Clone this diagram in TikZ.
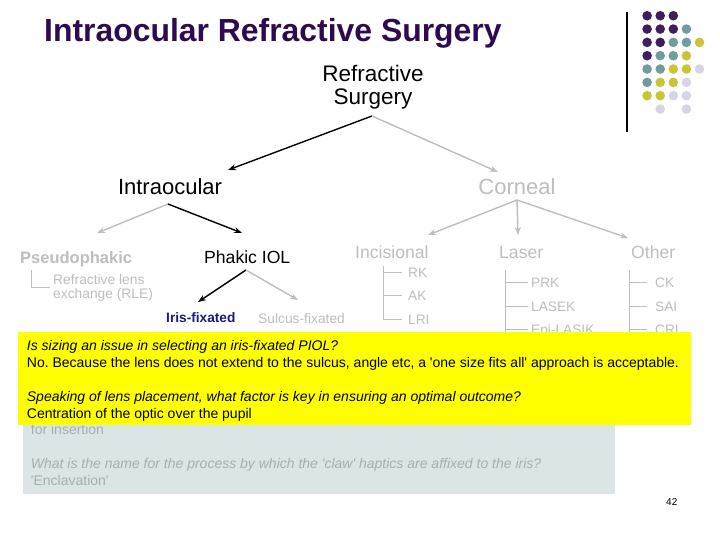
\documentclass[tikz,border=0pt]{standalone}
\usepackage{fontspec}
\setmainfont{Liberation Sans}
\usetikzlibrary{arrows.meta}
\definecolor{titlepurple}{HTML}{2E0B50}
\definecolor{lgray}{HTML}{BEBEBE}
\definecolor{dpurple}{HTML}{3F1E5E}
\definecolor{dteal}{HTML}{6F9C9C}
\definecolor{dyellow}{HTML}{C9C536}
\definecolor{dlav}{HTML}{D5D5E6}
\definecolor{boxgray}{HTML}{DCE5E5}
\definecolor{boxtext}{HTML}{A6AEAE}
\definecolor{irisblue}{HTML}{1C1C7C}
\definecolor{hiyellow}{HTML}{FFFF00}
\newcommand\myfs[2]{\fontsize{#1}{#2}\selectfont}
\frenchspacing
\tikzset{
  lbl/.style={inner sep=0pt, anchor=base west},
  blackarrow/.style={draw=black, line width=1.4pt, -{Stealth[length=8pt,width=6pt]}},
  grayarrow/.style={draw=lgray, line width=1.4pt, -{Stealth[length=8pt,width=6pt]}},
  treeline/.style={draw=lgray, line width=0.8pt},
  leaf/.style={lbl, text=lgray, font=\myfs{13.7}{16}},
  level3/.style={lbl, font=\myfs{17.6}{20}},
  dot/.style={inner sep=0pt, minimum size=9.6pt, circle},
}
\begin{document}
\begin{tikzpicture}[x=1pt,y=-1pt]
\useasboundingbox (0,0) rectangle (720,540);
\fill[white] (0,0) rectangle (720,540);

% title
\node[lbl, text=titlepurple, font=\myfs{31.9}{36}\bfseries] (title) at (44,41.7) {Intraocular Refractive Surgery};

% vertical rule
\coordinate (ruletop) at (627,12);
\coordinate (rulebot) at (627,132);
\draw[line width=1.1pt] (ruletop) -- (rulebot);

% dot grid
\foreach \c/\r/\col [count=\i] in {
  1/1/dpurple,2/1/dpurple,3/1/dpurple,
  1/2/dpurple,2/2/dpurple,3/2/dpurple,4/2/dteal,
  1/3/dpurple,2/3/dpurple,3/3/dteal,4/3/dteal,5/3/dyellow,
  1/4/dpurple,2/4/dteal,3/4/dteal,4/4/dyellow,
  1/5/dteal,2/5/dteal,3/5/dyellow,4/5/dyellow,5/5/dlav,
  1/6/dteal,2/6/dyellow,3/6/dyellow,4/6/dlav,
  1/7/dyellow,2/7/dyellow,3/7/dlav,4/7/dlav,
  2/8/dlav,4/8/dlav}
  \node[dot, fill=\col] (dot\i) at ({634+13.1*\c},{2.4+13.33*\r}) {};

% tree nodes
\node[inner sep=0pt, anchor=north, align=center, font=\myfs{22.5}{23}] (refsurg) at (373,65) {Refractive\\Surgery};
\node[inner sep=0pt, anchor=base, font=\myfs{22}{24}] (intra) at (170,195) {Intraocular};
\node[inner sep=0pt, anchor=base, text=lgray, font=\myfs{22}{24}] (corneal) at (517,195) {Corneal};

\node[lbl, text=lgray, font=\myfs{16.5}{20}\bfseries] (pseudo) at (20,263) {Pseudophakic};
\node[level3] (phakic) at (204,263) {Phakic IOL};
\node[level3, text=lgray] (incis) at (355,258.5) {Incisional};
\node[level3, text=lgray] (laser) at (499,258.5) {Laser};
\node[level3, text=lgray] (other) at (631,258.5) {Other};

\node[inner sep=0pt, anchor=north west, align=left, text=lgray, font=\myfs{13.8}{14}] (rle) at (53,274) {Refractive lens\\exchange (RLE)};
\node[lbl, text=irisblue, font=\myfs{13.7}{16}\bfseries] (iris) at (166,322) {Iris-fixated};
\node[lbl, text=lgray, font=\myfs{13.8}{16}] (sulcus) at (258,323) {Sulcus-fixated};

\node[leaf] (rk) at (408,277) {RK};
\node[leaf] (ak) at (408,300.5) {AK};
\node[leaf] (lri) at (408,324) {LRI};
\node[leaf] (prk) at (531,287) {PRK};
\node[leaf] (lasek) at (531,311) {LASEK};
\node[leaf] (epi) at (531,334) {Epi-LASIK};
\node[leaf] (ck) at (655,287) {CK};
\node[leaf] (sai) at (655,311) {SAI};
\node[leaf] (cri) at (655,334) {CRI};

% arrow end points
\coordinate (rsout) at (372,116);
\coordinate (intin) at (228,170);
\coordinate (corin) at (498,172);
\coordinate (intout) at (168,204);
\coordinate (psin) at (97,233);
\coordinate (phin) at (242,233);
\coordinate (corout) at (517,200);
\coordinate (incin) at (428,235);
\coordinate (lasin) at (518,235);
\coordinate (othin) at (628,238);
\coordinate (phout) at (246,270);
\coordinate (irisin) at (198,302);
\coordinate (sulin) at (298,300);

\draw[blackarrow] (rsout) -- (intin);
\draw[grayarrow] (rsout) -- (corin);
\draw[grayarrow] (intout) -- (psin);
\draw[blackarrow] (intout) -- (phin);
\draw[grayarrow] (corout) -- (incin);
\draw[grayarrow] (corout) -- (lasin);
\draw[grayarrow] (corout) -- (othin);
\draw[blackarrow] (phout) -- (irisin);
\draw[grayarrow] (phout) -- (sulin);

% tree lines
\draw[treeline] (31,270) -- (31,287) -- (50,287);
\draw[treeline] (383.3,266) -- (383.3,319) -- (401.7,319);
\draw[treeline] (383.3,272.3) -- (401.7,272.3);
\draw[treeline] (383.3,295.7) -- (401.7,295.7);
\draw[treeline] (505,270) -- (505,340);
\foreach \yy in {282.3,306,329.3} \draw[treeline] (505,\yy) -- (528,\yy);
\draw[treeline] (629.3,270) -- (629.3,340);
\foreach \yy in {282.3,306,329.3} \draw[treeline] (629.3,\yy) -- (647.3,\yy);

% grey notes box
\fill[boxgray] (23.3,332) rectangle (615,494.3);
\node[inner sep=0pt, anchor=north west, align=left, text=boxtext, font=\myfs{14}{17}] (graynote) at (30.7,424.3)
  {for insertion\\[17pt]
   \textit{What is the name for the process by which the \textquotesingle claw\textquotesingle\ haptics are affixed to the iris?}\\
   \textquotesingle Enclavation\textquotesingle};

% yellow notes box
\fill[hiyellow] (18.3,332.3) rectangle (690.7,424.5);
\node[inner sep=0pt, anchor=north west, align=left, font=\myfs{14}{17}] (yellownote) at (26.7,339.8)
  {\textit{Is sizing an issue in selecting an iris-fixated PIOL?}\\
   No. Because the lens does not extend to the sulcus, angle etc, a \textquotesingle one size fits all\textquotesingle\ approach is acceptable.\\[17pt]
   \textit{Speaking of lens placement, what factor is key in ensuring an optimal outcome?}\\
   Centration of the optic over the pupil};

% page number
\node[lbl, font=\myfs{10}{12}] (pagenum) at (666,505) {42};
\end{tikzpicture}
\end{document}
